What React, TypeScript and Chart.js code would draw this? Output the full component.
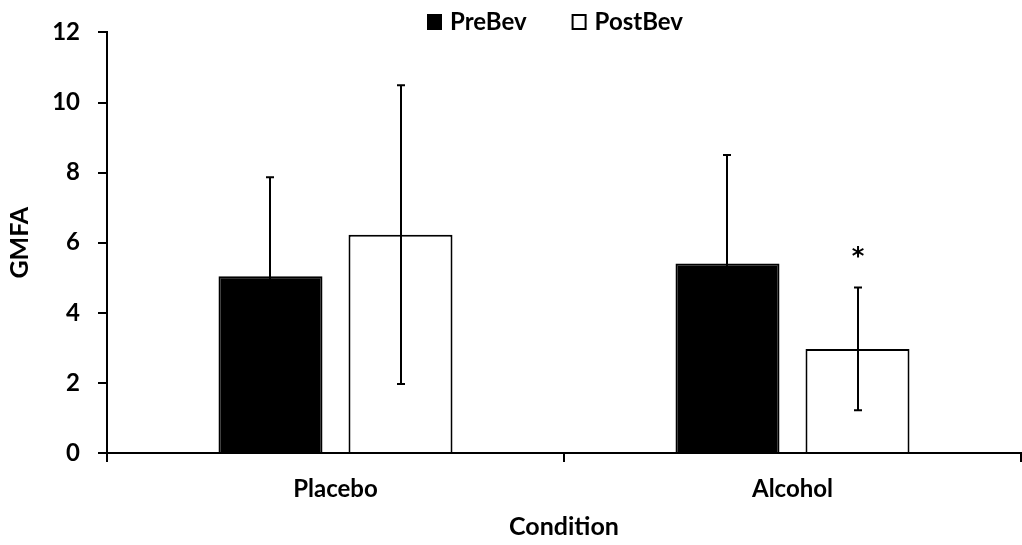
import React, { useEffect, useRef } from "react";
import { Chart, registerables } from "chart.js";

Chart.register(...registerables);

const categories = ["Placebo", "Alcohol"];
const seriesNames = ["PreBev", "PostBev"];
const preBev = [5.04, 5.41];
const postBev = [6.23, 2.97];
const preBevErr = [2.83, 3.09];
const postBevErr = [4.26, 1.75];
const postBevMarks = ["", "*"];
const yMin = 0;
const yMax = 12;
const yStep = 2;
const xTitle = "Condition";
const yTitle = "GMFA";

const FONT = "Lato";

const errorBarPlugin = {
  id: "errorBars",
  afterDatasetsDraw(chart: any) {
    const ctx = chart.ctx;
    const yScale = chart.scales.y;
    chart.data.datasets.forEach((ds: any, di: number) => {
      const meta = chart.getDatasetMeta(di);
      const errs: number[] = ds.errors || [];
      meta.data.forEach((bar: any, i: number) => {
        const v = ds.data[i];
        const e = errs[i];
        if (e == null) return;
        const x = Math.round(bar.x);
        const yTop = yScale.getPixelForValue(v + e);
        const yBot = yScale.getPixelForValue(v - e);
        ctx.save();
        ctx.strokeStyle = "#000";
        ctx.lineWidth = 2;
        ctx.beginPath();
        ctx.moveTo(x, yTop);
        ctx.lineTo(x, yBot);
        ctx.moveTo(x - 4, yTop);
        ctx.lineTo(x + 4, yTop);
        ctx.moveTo(x - 4, yBot);
        ctx.lineTo(x + 4, yBot);
        ctx.stroke();
        const mark = (ds.marks || [])[i];
        if (mark) {
          ctx.fillStyle = "#000";
          ctx.font = `bold 24px "DejaVu Sans"`;
          ctx.textAlign = "center";
          ctx.textBaseline = "alphabetic";
          ctx.fillText(mark, x, yTop - 24);
        }
        ctx.restore();
      });
    });
  },
};

const legendPlugin = {
  id: "customLegend",
  afterDraw(chart: any) {
    const ctx = chart.ctx;
    ctx.save();
    ctx.font = `bold 24px ${FONT}`;
    ctx.textBaseline = "middle";
    ctx.textAlign = "left";
    let x = 427;
    const boxTop = 14;
    const boxSize = 15;
    chart.data.datasets.forEach((ds: any) => {
      ctx.fillStyle = ds.backgroundColor;
      ctx.fillRect(x, boxTop, boxSize, boxSize + 1);
      ctx.strokeStyle = "#000";
      ctx.lineWidth = 2;
      ctx.strokeRect(x + 1, boxTop + 1, boxSize - 2, boxSize - 1);
      ctx.fillStyle = "#000";
      const tx = x + boxSize + 8;
      ctx.fillText(ds.label, tx, 22);
      x = tx + ctx.measureText(ds.label).width + 45;
    });
    ctx.restore();
  },
};

export default function App() {
  const ref = useRef<HTMLCanvasElement | null>(null);
  useEffect(() => {
    if (!ref.current) return;
    const tickFont = { family: FONT, size: 24, weight: "bold" as const };
    const titleFont = { family: FONT, size: 25, weight: "bold" as const };
    const chart = new Chart(ref.current, {
      type: "bar",
      data: {
        labels: categories,
        datasets: [
          {
            label: seriesNames[0],
            data: preBev,
            backgroundColor: "#000000",
            borderColor: "#000000",
            borderWidth: 2,
            categoryPercentage: 0.569,
            barPercentage: 0.8,
            errors: preBevErr,
          } as any,
          {
            label: seriesNames[1],
            data: postBev,
            backgroundColor: "#ffffff",
            borderColor: "#000000",
            borderWidth: 2,
            categoryPercentage: 0.569,
            barPercentage: 0.8,
            errors: postBevErr,
            marks: postBevMarks,
          } as any,
        ],
      },
      options: {
        animation: false,
        responsive: false,
        devicePixelRatio: 1,
        layout: { padding: { top: 29, right: 1, bottom: 0, left: 0 } },
        plugins: {
          legend: { display: false },
          tooltip: { enabled: false },
        },
        scales: {
          x: {
            grid: {
              offset: true,
              drawOnChartArea: false,
              drawTicks: true,
              tickLength: 9,
              color: "#000",
              lineWidth: 2,
            },
            border: { display: true, color: "#000", width: 2 },
            ticks: { font: tickFont, color: "#000", padding: 13 },
            title: {
              display: true,
              text: xTitle,
              font: titleFont,
              color: "#000",
              padding: { top: 0, bottom: 3 },
            },
            afterFit(scale: any) {
              scale.height = 92;
            },
          },
          y: {
            min: yMin,
            max: yMax,
            ticks: { stepSize: yStep, font: tickFont, color: "#000", padding: 18 },
            grid: {
              drawOnChartArea: false,
              drawTicks: true,
              tickLength: 9,
              color: "#000",
              lineWidth: 2,
            },
            border: { display: true, color: "#000", width: 2 },
            title: {
              display: true,
              text: yTitle,
              font: titleFont,
              color: "#000",
              padding: { top: 5, bottom: 0 },
            },
            afterFit(scale: any) {
              scale.width = 107;
            },
          },
        },
      },
      plugins: [errorBarPlugin, legendPlugin],
    });
    return () => chart.destroy();
  }, []);
  return (
    <div style={{ position: "absolute", left: 0, top: 0, width: 1022, height: 545, background: "#fff" }}>
      <canvas ref={ref} width={1022} height={545} style={{ display: "block" }} />
    </div>
  );
}
